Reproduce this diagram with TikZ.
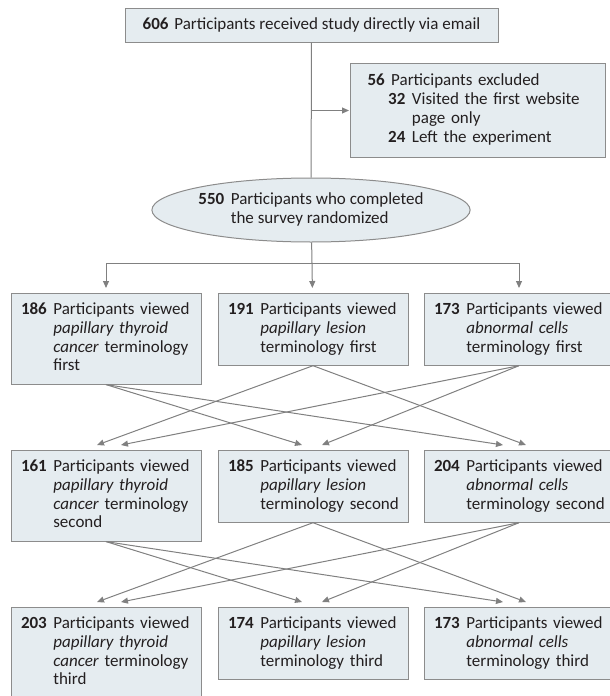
\documentclass[tikz,border=0pt]{standalone}
\usepackage{fontspec}
\setmainfont{Carlito}
\usepackage{tikz}
\usetikzlibrary{arrows.meta,shapes.geometric}

\definecolor{boxfill}{HTML}{E5ECF0}
\definecolor{boxline}{HTML}{8C8C8C}
\definecolor{flowline}{HTML}{808080}
\definecolor{ink}{HTML}{231F20}

% number in bold, text lines hanging under the first word
\newcommand{\cnt}[2]{\begin{tabular}{@{}l@{\hspace{6.5pt}}l@{}}\textbf{#1} & #2\end{tabular}}

\begin{document}
\begin{tikzpicture}
  [x=1pt, y=-1pt,
   every node/.style={font=\fontsize{17}{18.9}\selectfont, text=ink},
   box/.style={draw=boxline, fill=boxfill, line width=1pt, anchor=north,
     text width=170pt, align=left, inner xsep=10pt, inner ysep=7.5pt},
   line/.style={draw=flowline, line width=1pt},
   arr/.style={line, -{Triangle[length=7pt,width=6pt]}, shorten >=5pt}]
 \useasboundingbox (0,0) rectangle (610,696);

 % top of the chart
 \node[draw=boxline, fill=boxfill, line width=1pt, minimum width=373pt,
   minimum height=34pt, inner sep=0pt] (mail) at (311.5,25)
   {\textbf{606}\hspace{2pt} Participants received study directly via email};
 \node[draw=boxline, fill=boxfill, line width=1pt, anchor=north west,
   minimum height=94pt, text width=221pt, inner xsep=17pt, inner ysep=0pt,
   align=left] (excl) at (350,63)
   {\cnt{56}{Participants excluded\\
     & \hspace{-3pt}\begin{tabular}[t]{@{}l@{\hspace{6.5pt}}l@{}}
       \textbf{32} & Visited the first website\\
                   & page only\\
       \textbf{24} & Left the experiment
     \end{tabular}}};
 \node[ellipse, draw=boxline, fill=boxfill, line width=1pt, minimum width=288pt,
   minimum height=64pt, inner sep=0pt] (rand) at (311,210)
   {\cnt{550}{Participants who completed\\ & the survey randomized}};
 \coordinate (hub) at (312,263);

 % first
 \node[box] (f1) at (106,293) {\cnt{186}{Participants viewed\\ & \textit{papillary thyroid}\\ & \textit{cancer} terminology\\ & first}};
 \node[box] (f2) at (313,293) {\cnt{191}{Participants viewed\\ & \textit{papillary lesion}\\ & terminology first}};
 \node[box] (f3) at (519,293) {\cnt{173}{Participants viewed\\ & \textit{abnormal cells}\\ & terminology first}};
 % second
 \node[box] (s1) at (106,450) {\cnt{161}{Participants viewed\\ & \textit{papillary thyroid}\\ & \textit{cancer} terminology\\ & second}};
 \node[box] (s2) at (313,450) {\cnt{185}{Participants viewed\\ & \textit{papillary lesion}\\ & terminology second}};
 \node[box] (s3) at (519,450) {\cnt{204}{Participants viewed\\ & \textit{abnormal cells}\\ & terminology second}};
 % third
 \node[box] (t1) at (106,607) {\cnt{203}{Participants viewed\\ & \textit{papillary thyroid}\\ & \textit{cancer} terminology\\ & third}};
 \node[box] (t2) at (313,607) {\cnt{174}{Participants viewed\\ & \textit{papillary lesion}\\ & terminology third}};
 \node[box] (t3) at (519,607) {\cnt{173}{Participants viewed\\ & \textit{abnormal cells}\\ & terminology third}};

 \draw[line] (mail) -- (rand);
 \draw[arr, shorten >=1pt] (mail.south |- excl.west) -- (excl.west);
 \draw[line] (rand) -- (hub);
 \draw[arr] (hub) -- (f2);
 \draw[arr] (hub) -| (f1);
 \draw[arr] (hub) -| (f3);

 % crossings between rows
 \foreach \u/\v in {f/s, s/t}
   \foreach \a/\b/\o in {1/2/-11, 1/3/-16, 2/1/-9, 2/3/7, 3/1/15, 3/2/9}
     \draw[arr, shorten >=0pt] (\u\a.south) -- ([xshift=\o pt, yshift=5pt]\v\b.north);
\end{tikzpicture}
\end{document}
